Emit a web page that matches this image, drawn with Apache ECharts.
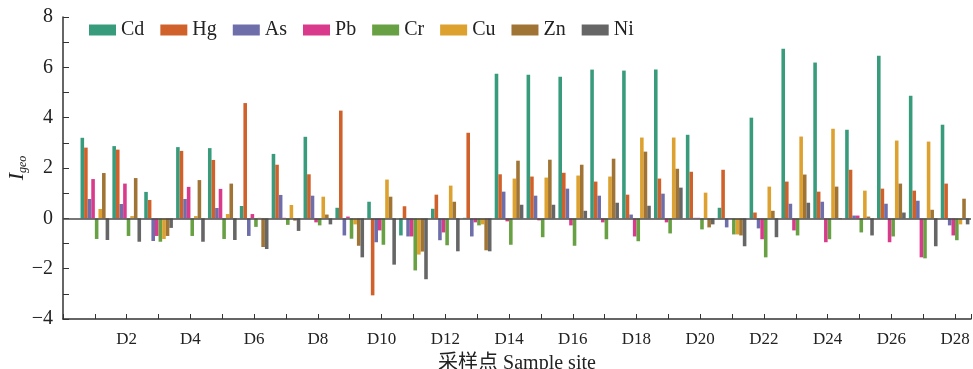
<!DOCTYPE html>
<html>
<head>
<meta charset="utf-8">
<script src="https://cdn.jsdelivr.net/npm/echarts@6/dist/echarts.min.js"></script>
<style>
html, body { margin: 0; padding: 0; background: #fff; }
#chart { width: 973px; height: 369px; }
</style>
</head>
<body>
<div id="chart"></div>
<script>
var sites = ['D1','D2','D3','D4','D5','D6','D7','D8','D9','D10','D11','D12','D13','D14',
             'D15','D16','D17','D18','D19','D20','D21','D22','D23','D24','D25','D26','D27','D28'];
var elements = ['Cd', 'Hg', 'As', 'Pb', 'Cr', 'Cu', 'Zn', 'Ni'];
var yTicks = [-4, -2, 0, 2, 4, 6, 8];

var cd = [3.20, 2.87, 1.05, 2.83, 2.79, 0.49, 2.56, 3.24, 0.42, 0.66, -0.68, 0.38, 0.02, 5.75,
          5.71, 5.63, 5.91, 5.87, 5.91, 3.32, 0.42, 4.00, 6.74, 6.19, 3.52, 6.46, 4.87, 3.72];
var hg = [2.81, 2.73, 0.73, 2.68, 2.32, 4.58, 2.13, 1.75, 4.28, -3.06, 0.48, 0.94, 3.40, 1.75,
          1.66, 1.81, 1.46, 0.94, 1.58, 1.85, 1.93, 0.23, 1.46, 1.06, 1.93, 1.18, 1.10, 1.38];
var as = [0.77, 0.57, -0.90, 0.77, 0.41, -0.70, 0.93, 0.90, -0.68, -0.95, -0.72, -0.87, -0.72, 1.06,
          0.90, 1.18, 0.90, 0.15, 0.98, 0.02, -0.36, -0.40, 0.58, 0.66, 0.11, 0.58, 0.70, -0.28];
var pb = [1.56, 1.38, -0.70, 1.25, 1.17, 0.17, 0.02, -0.16, 0.07, -0.48, -0.72, -0.56, -0.16, -0.12,
          -0.08, -0.28, -0.16, -0.72, -0.16, 0.02, -0.02, -0.83, -0.48, -0.95, 0.11, -0.95, -1.55, -0.68];
var cr = [-0.82, -0.70, -0.93, -0.70, -0.82, -0.34, -0.26, -0.28, -0.81, -1.05, -2.07, -1.07, -0.28, -1.05,
          -0.75, -1.09, -0.83, -0.91, -0.60, -0.44, -0.64, -1.55, -0.68, -0.83, -0.56, -0.72, -1.59, -0.87];
var cu = [0.37, 0.09, -0.82, 0.09, 0.17, 0.02, 0.53, 0.86, -0.24, 1.54, -1.44, 1.30, -0.24, 1.58,
          1.62, 1.70, 1.66, 3.21, 3.21, 1.02, -0.64, 1.26, 3.25, 3.56, 1.10, 3.09, 3.05, -0.24];
var zn = [1.80, 1.60, -0.70, 1.52, 1.38, -1.14, -0.09, 0.15, -1.09, 0.86, -1.32, 0.66, -1.27, 2.29,
          2.33, 2.13, 2.37, 2.65, 1.97, -0.36, -0.68, 0.30, 1.74, 1.26, 0.07, 1.38, 0.34, 0.78];
var ni = [-0.86, -0.93, -0.38, -0.93, -0.86, -1.22, -0.50, -0.24, -1.55, -1.84, -2.42, -1.31, -1.31, 0.54,
          0.54, 0.30, 0.62, 0.50, 1.22, -0.24, -1.11, -0.75, 0.62, -0.03, -0.68, 0.23, -1.11, -0.24];

var colors = ['#389c7c', '#d1612a', '#6e6eab', '#da3a8b', '#68a044', '#dca12f', '#a07435', '#666666'];
var serif = "'Liberation Serif', 'Times New Roman', 'Noto Sans CJK SC', serif";

var chart = echarts.init(document.getElementById('chart'));

var values = [cd, hg, as, pb, cr, cu, zn, ni];
var series = elements.map(function (name, k) {
    var s = {
        name: name,
        type: 'bar',
        barGap: 0,
        barCategoryGap: '10%',
        itemStyle: { color: colors[k] },
        data: values[k].map(function (v, i) { return [i + 1, v]; })
    };
    if (k === 0) {
        // 零线
        s.markLine = {
            silent: true,
            symbol: 'none',
            label: { show: false },
            lineStyle: { color: '#4a4a4a', type: 'solid', width: 1.5 },
            data: [{ yAxis: 0 }]
        };
    }
    return s;
});

var option = {
    animation: false,
    color: colors,
    legend: {
        left: 84,
        top: 15,
        icon: 'rect',
        itemWidth: 27,
        itemHeight: 11,
        itemGap: 16,
        textStyle: { fontFamily: serif, fontSize: 20, color: '#222', width: 30 },
        data: elements
    },
    grid: { left: 63, right: 2, top: 17, bottom: 50, containLabel: false, outerBoundsMode: 'none' },
    xAxis: {
        type: 'value',
        min: 0,
        max: 28.5,
        interval: 1,
        splitLine: { show: false },
        axisLine: { onZero: false, lineStyle: { color: '#333', width: 1.5 } },
        axisTick: { inside: true, length: 5, lineStyle: { color: '#333' } },
        axisLabel: {
            margin: 12,
            fontFamily: serif,
            fontSize: 17,
            color: '#222',
            showMinLabel: true,
            showMaxLabel: true,
            formatter: function (v) {
                var i = Math.round(v);
                if (Math.abs(v - i) > 1e-6 || i < 1 || i % 2 !== 0) return '';
                return sites[i - 1];
            }
        },
        name: '采样点 Sample site',
        nameLocation: 'middle',
        nameGap: 35,
        nameTextStyle: { fontFamily: serif, fontSize: 20, color: '#222', verticalAlign: 'top' }
    },
    yAxis: {
        type: 'value',
        min: yTicks[0],
        max: yTicks[yTicks.length - 1],
        interval: 2,
        splitLine: { show: false },
        axisLine: { show: true, lineStyle: { color: '#333', width: 1.5 } },
        axisTick: { show: true, inside: true, length: 6, lineStyle: { color: '#333' } },
        minorTick: { show: true, splitNumber: 2, length: 6, lineStyle: { color: '#333' } },
        axisLabel: {
            margin: 10,
            fontFamily: serif,
            fontSize: 20,
            color: '#222',
            formatter: function (v) { return v < 0 ? '\u2212' + Math.abs(v) : String(v); }
        },
        name: '{i|I}{s|geo}',
        nameLocation: 'middle',
        nameRotate: 90,
        nameGap: 34,
        nameMoveOverlap: false,
        nameTextStyle: {
            rich: {
                i: { fontFamily: serif, fontStyle: 'italic', fontSize: 22, color: '#222' },
                s: { fontFamily: serif, fontStyle: 'italic', fontSize: 12, color: '#222', padding: [12, 0, 0, 0] }
            }
        }
    },
    series: series
};

chart.setOption(option);
window.addEventListener('resize', function () { chart.resize(); });
</script>
</body>
</html>
